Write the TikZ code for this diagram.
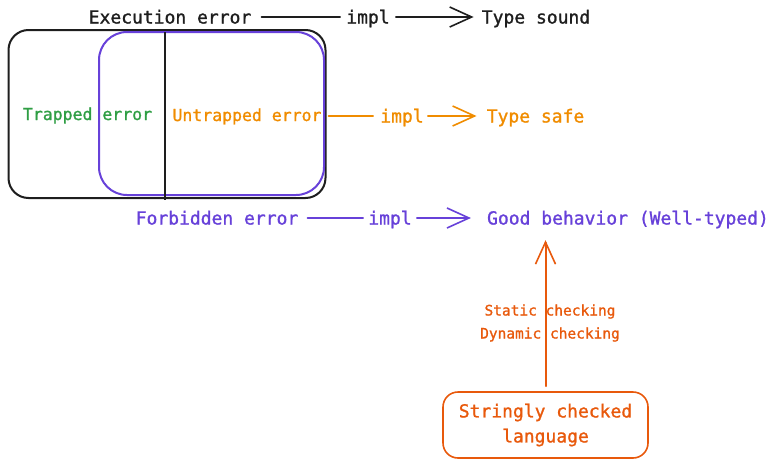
\documentclass[tikz,border=0pt]{standalone}
\usepackage{fontspec}
\setmainfont[FakeBold=1.2]{DejaVu Sans Mono}
\setmonofont{DejaVu Sans Mono}
\usetikzlibrary{arrows.meta}
\definecolor{ink}{HTML}{1E1E1E}
\definecolor{vio}{HTML}{6741D9}
\definecolor{grn}{HTML}{2F9E44}
\definecolor{orng}{HTML}{F08C00}
\definecolor{rorng}{HTML}{E8590C}
\begin{document}
\begin{tikzpicture}[x=1pt,y=-1pt,
  txt/.style={inner sep=0pt, text depth=0pt},
  big/.style={txt, font=\fontsize{18}{22}\selectfont, text height=13pt},
  mid/.style={txt, font=\fontsize{16.5}{20}\selectfont, text height=12pt},
  wire/.style={line width=1.6pt, line cap=round},
  arr/.style={wire, -{Straight Barb[length=22pt,width=20pt,line width=1.6pt]}},
  frame/.style={draw, line width=2pt, inner sep=0pt}]
\useasboundingbox (0,0) rectangle (774,469);

% boxes
\node[frame, ink, minimum width=317pt, minimum height=168pt, rounded corners=20pt] (outer) at (167,114) {};
\node[frame, vio, minimum width=225pt, minimum height=163pt, rounded corners=28pt] (inner) at (211.5,113.5) {};
\coordinate (vt) at (165,32);
\coordinate (vb) at (165,200);
\draw[ink, line width=2pt] (vt) -- (vb);

\node[mid, grn] (trap) at (87.5,114) {Trapped error};
\node[mid, orng] (untrap) at (247,115) {Untrapped error};

% top row
\node[big, ink] (exec) at (170,17) {Execution error};
\node[big, ink] (impla) at (368,17) {impl};
\node[big, ink] (sound) at (536,17) {Type sound};
\draw[wire, ink, shorten <=10pt, shorten >=6pt] (exec.east) -- (impla.west);
\draw[arr, ink, shorten <=6pt, shorten >=8pt] (impla.east) -- (sound.west);

% middle row
\node[big, orng] (implb) at (402,116) {impl};
\node[big, orng] (safe) at (535.5,116) {Type safe};
\draw[wire, orng, shorten <=2pt, shorten >=7pt] (outer.east |- implb.west) -- (implb.west);
\draw[arr, orng, shorten <=4pt, shorten >=10pt] (implb.east) -- (safe.west);

% purple row
\node[big, vio] (forb) at (217,218) {Forbidden error};
\node[big, vio] (implc) at (390,218) {impl};
\node[big, vio] (good) at (628,218) {Good behavior (Well-typed)};
\draw[wire, vio, shorten <=9pt, shorten >=5pt] (forb.east) -- (implc.west);
\draw[arr, vio, shorten <=5pt, shorten >=16pt] (implc.east) -- (good.west);

% bottom
\node[draw, rorng, line width=1.6pt, rounded corners=15pt, minimum width=205pt, minimum height=66pt,
      inner sep=0pt, align=center, font=\fontsize{18}{25}\selectfont] (lang) at (545.5,425)
      {Stringly checked\\language};
\draw[arr, rorng, line width=2pt, shorten <=5pt, shorten >=15.5pt] (lang.north) -- (lang.north |- good.south);
\node[txt, rorng, align=center, font=\fontsize{14.5}{23}\selectfont] (chk) at (550,321.5)
      {Static checking\\Dynamic checking};
\end{tikzpicture}
\end{document}
